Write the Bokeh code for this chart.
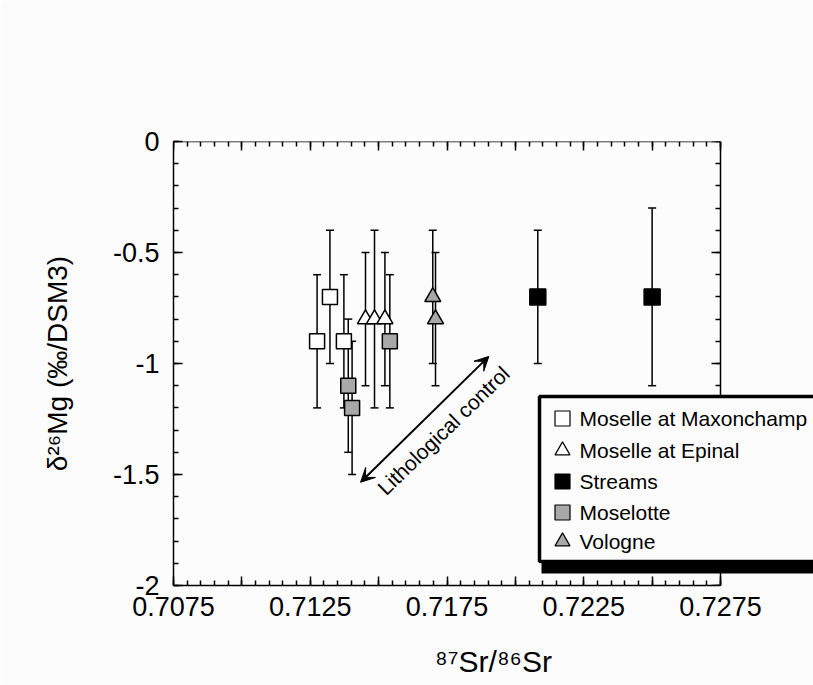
from bokeh.plotting import figure
from bokeh.models import (Range1d, LinearAxis, FixedTicker, CustomJSTickFormatter,
                          ColumnDataSource, Whisker, TeeHead, Arrow, VeeHead)
from bokeh.core.properties import value
from bokeh.embed import file_html
from bokeh.resources import INLINE

# ---------------- data ----------------
maxon_x = [0.71275, 0.71322, 0.71373]
maxon_y = [-0.9, -0.7, -0.9]
maxon_err = [0.3, 0.3, 0.3]

epinal_x = [0.71452, 0.71485, 0.71523]
epinal_y = [-0.8, -0.8, -0.8]
epinal_err = [0.3, 0.4, 0.3]

streams_x = [0.72082, 0.72500]
streams_y = [-0.7, -0.7]
streams_err = [0.3, 0.4]

moselotte_x = [0.71389, 0.71403, 0.71541]
moselotte_y = [-1.1, -1.2, -0.9]
moselotte_err = [0.3, 0.3, 0.3]

vologne_x = [0.71698, 0.71708]
vologne_y = [-0.7, -0.8]
vologne_err = [0.3, 0.3]

legend_labels = ["Moselle at Maxonchamp", "Moselle at Epinal", "Streams",
                 "Moselotte", "Vologne"]

x_major_ticks = [0.7075, 0.7100, 0.7125, 0.7150, 0.7175, 0.7200, 0.7225, 0.7250, 0.7275]
x_tick_labels = ["0.7075", "", "0.7125", "", "0.7175", "", "0.7225", "", "0.7275"]
y_major_ticks = [-2.0, -1.5, -1.0, -0.5, 0.0]
y_tick_labels = ["-2", "-1.5", "-1", "-0.5", "0"]

arrow_start = (0.71434, -1.535)
arrow_end = (0.71903, -0.968)
annot_text = "Lithological control"
annot_pos = (0.71737, -1.302)

x_title = "\u2078\u2077Sr/\u2078\u2076Sr"
y_title = "\u03b4\u00b2\u2076Mg (\u2030/DSM3)"

# ---------------- layout constants ----------------
FONT = "Liberation Sans"
BG = "#fcfcfc"
GRAY = "#a8a8a8"
W, H = 813, 685
ML, MT = 173, 141
FRAME_H = 444
MB = H - MT - FRAME_H
FRAME_W = W - ML
X0, X1 = 0.7075, 0.7275
PX_PER_X = 547 / (X1 - X0)          # axis spans 547 px
XEND = X0 + FRAME_W / PX_PER_X


def dx(px):   # page pixel -> data x
    return X0 + (px - ML) / PX_PER_X


def dy(py):   # page pixel -> data y
    return -(py - MT) / (FRAME_H / 2.0)


x_minor = [round(X0 + i * 0.0005, 4) for i in range(41)]
y_minor = [round(-2 + i * 0.1, 1) for i in range(21)]

p = figure(width=W, height=H, x_range=Range1d(X0, XEND), y_range=Range1d(-2, 0),
           output_backend="svg", toolbar_location=None,
           min_border_left=ML, min_border_right=0, min_border_top=MT,
           min_border_bottom=MB, background_fill_color=BG, border_fill_color=BG,
           outline_line_color=None)
p.grid.visible = False

fmt_code = """
let best = 0;
for (let i = 0; i < tvals.length; i++) {
  if (Math.abs(tvals[i] - tick) < Math.abs(tvals[best] - tick)) best = i;
}
return tlabels[best];
"""


def style_axis(ax, show_labels):
    ax.axis_line_width = 1.5
    ax.major_tick_line_width = 1.5
    ax.minor_tick_line_width = 1.5
    ax.major_tick_in = 9
    ax.major_tick_out = 0
    ax.minor_tick_in = 5
    ax.minor_tick_out = 0
    ax.major_label_text_font = FONT
    ax.major_label_text_font_size = "27px"
    ax.major_label_text_color = "black" if show_labels else None
    ax.axis_label_text_font = FONT
    ax.axis_label_text_font_style = "normal"
    ax.axis_label_text_color = "black"


xt = FixedTicker(ticks=x_major_ticks, minor_ticks=x_minor)
yt = FixedTicker(ticks=y_major_ticks, minor_ticks=y_minor)
xfmt = CustomJSTickFormatter(args=dict(tvals=x_major_ticks, tlabels=x_tick_labels), code=fmt_code)
yfmt = CustomJSTickFormatter(args=dict(tvals=y_major_ticks, tlabels=y_tick_labels), code=fmt_code)

bx = p.xaxis[0]
style_axis(bx, True)
bx.ticker = xt
bx.formatter = xfmt
bx.bounds = (X0, X1)
bx.major_label_standoff = 11
bx.axis_label = x_title
bx.axis_label_text_font_size = "30px"
bx.axis_label_standoff = 26

ly = p.yaxis[0]
style_axis(ly, True)
ly.ticker = yt
ly.formatter = yfmt
ly.major_label_standoff = 14
ly.axis_label = y_title
ly.axis_label_text_font_size = "28px"
ly.axis_label_standoff = 37

top = LinearAxis(ticker=FixedTicker(ticks=x_major_ticks, minor_ticks=x_minor),
                 fixed_location=0, bounds=(X0, X1))
style_axis(top, False)
p.add_layout(top, "above")

right = LinearAxis(ticker=FixedTicker(ticks=y_major_ticks, minor_ticks=y_minor),
                   fixed_location=X1)
style_axis(right, False)
p.add_layout(right, "right")

# ---------------- series ----------------
series = [
    (maxon_x, maxon_y, maxon_err, "square", "white", 15),
    (epinal_x, epinal_y, epinal_err, "triangle", "white", 16),
    (streams_x, streams_y, streams_err, "square", "black", 16),
    (moselotte_x, moselotte_y, moselotte_err, "square", GRAY, 15),
    (vologne_x, vologne_y, vologne_err, "triangle", GRAY, 16),
]

for xs, ys, es, mk, fc, sz in series:
    src = ColumnDataSource(dict(x=xs, y=ys,
                                upper=[a + b for a, b in zip(ys, es)],
                                lower=[a - b for a, b in zip(ys, es)]))
    w = Whisker(base="x", upper="upper", lower="lower", source=src, dimension="height",
                line_width=1.5, line_color="black", level="underlay",
                upper_head=TeeHead(size=8, line_width=1.5, line_color="black"),
                lower_head=TeeHead(size=8, line_width=1.5, line_color="black"))
    p.add_layout(w)

for xs, ys, es, mk, fc, sz in series:
    p.scatter(xs, ys, marker=mk, size=sz, fill_color=fc, line_color="black", line_width=1.5)

# ---------------- annotation arrow + text ----------------
p.add_layout(Arrow(x_start=arrow_start[0], y_start=arrow_start[1],
                   x_end=arrow_end[0], y_end=arrow_end[1], line_width=2,
                   start=VeeHead(size=14, fill_color="black", line_color="black"),
                   end=VeeHead(size=14, fill_color="black", line_color="black")))
p.text(x=[annot_pos[0]], y=[annot_pos[1]], text=[annot_text], angle=0.77,
       text_align="center", text_baseline="middle", text_font=value(FONT),
       text_font_size="21px", text_color="black")

# ---------------- legend box (drawn over the right axis) ----------------
p.quad(left=[dx(541)], right=[dx(830)], top=[dy(400)], bottom=[dy(573)],
       fill_color="black", line_color=None, level="overlay")
p.quad(left=[dx(539)], right=[dx(830)], top=[dy(396)], bottom=[dy(561)],
       fill_color=BG, line_color="black", line_width=3.5, level="overlay")

row_px = [418, 450, 481, 512, 541]
leg_y = [dy(v) for v in row_px]
for (xs, ys, es, mk, fc, sz), yy in zip(series, leg_y):
    p.scatter([dx(562)], [yy], marker=mk, size=15, fill_color=fc, line_color="black",
              line_width=1.2, level="overlay")
p.text(x=[dx(579)] * len(legend_labels), y=leg_y, text=legend_labels,
       text_align="left", text_baseline="middle", text_font=value(FONT),
       text_font_size="21px", text_color="black", level="overlay")

open("out.html", "w").write(file_html(p, INLINE))
